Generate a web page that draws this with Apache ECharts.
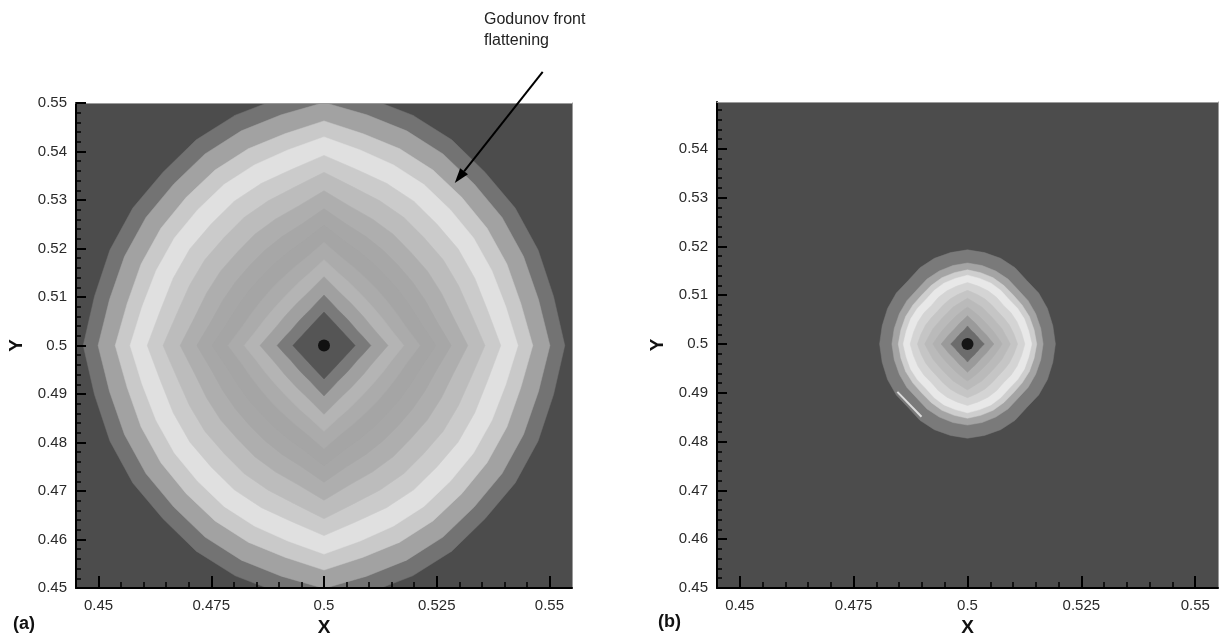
<!DOCTYPE html>
<html>
<head>
<meta charset="utf-8">
<script src="https://cdn.jsdelivr.net/npm/echarts@6/dist/echarts.min.js"></script>
<style>
html, body { margin: 0; background: #fff; }
#main { width: 1225px; height: 637px; }
</style>
</head>
<body>
<div id="main"></div>
<script>
// front centre (both panels)
var center = [0.5, 0.5];

// tick positions / labels
var xMajorTicks = [0.45, 0.475, 0.5, 0.525, 0.55];
var xMinorTicks = [0.455, 0.46, 0.465, 0.47, 0.48, 0.485, 0.49, 0.495,
                   0.505, 0.51, 0.515, 0.52, 0.53, 0.535, 0.54, 0.545];
var yMajorLeft = [0.45, 0.46, 0.47, 0.48, 0.49, 0.5, 0.51, 0.52, 0.53, 0.54, 0.55];
var yMajorRight = [0.45, 0.46, 0.47, 0.48, 0.49, 0.5, 0.51, 0.52, 0.53, 0.54];
var yMinorTicks = [0.452, 0.454, 0.456, 0.458, 0.462, 0.464, 0.466, 0.468,
                   0.472, 0.474, 0.476, 0.478, 0.482, 0.484, 0.486, 0.488,
                   0.492, 0.494, 0.496, 0.498, 0.502, 0.504, 0.506, 0.508,
                   0.512, 0.514, 0.516, 0.518, 0.522, 0.524, 0.526, 0.528,
                   0.532, 0.534, 0.536, 0.538, 0.542, 0.544, 0.546, 0.548];

// (a) contour levels, outermost first: radius at 0, 11.25, 22.5, 33.75, 45 deg
var leftR0  = [0.0534, 0.0501, 0.0463, 0.0430, 0.0392, 0.0357, 0.0319, 0.0282, 0.0248, 0.0213, 0.0177, 0.0142, 0.0104, 0.0069];
var leftR11 = [0.0519, 0.0485, 0.0445, 0.0411, 0.0370, 0.0333, 0.0293, 0.0255, 0.0221, 0.0187, 0.0154, 0.0122, 0.0089, 0.0059];
var leftR22 = [0.0514, 0.0479, 0.0439, 0.0403, 0.0362, 0.0323, 0.0282, 0.0243, 0.0208, 0.0174, 0.0142, 0.0111, 0.0080, 0.0053];
var leftR34 = [0.0510, 0.0475, 0.0435, 0.0399, 0.0358, 0.0318, 0.0276, 0.0236, 0.0201, 0.0167, 0.0135, 0.0106, 0.0076, 0.0050];
var leftR45 = [0.0505, 0.0471, 0.0432, 0.0396, 0.0354, 0.0314, 0.0272, 0.0233, 0.0198, 0.0165, 0.0133, 0.0104, 0.0075, 0.0049];
var leftColors = ['#737373', '#a2a2a2', '#c9c9c9', '#e0e0e0', '#cbcbcb', '#bcbcbc', '#aeaeae',
                  '#a7a7a7', '#a5a5a5', '#ababab', '#b4b4b4', '#a0a0a0', '#7a7a7a', '#555555'];

// (b) contour levels
var rightR0  = [0.0193, 0.0166, 0.0152, 0.0141, 0.0126, 0.0110, 0.0094, 0.0076, 0.0058, 0.0037];
var rightR11 = [0.0191, 0.0164, 0.0149, 0.0137, 0.0121, 0.0104, 0.0086, 0.0068, 0.0050, 0.0031];
var rightR22 = [0.0190, 0.0162, 0.0147, 0.0135, 0.0118, 0.0100, 0.0082, 0.0063, 0.0046, 0.0028];
var rightR34 = [0.0188, 0.0160, 0.0144, 0.0132, 0.0115, 0.0096, 0.0078, 0.0060, 0.0043, 0.0027];
var rightR45 = [0.0184, 0.0157, 0.0142, 0.0129, 0.0112, 0.0094, 0.0077, 0.0059, 0.0042, 0.0026];
var rightColors = ['#7a7a7a', '#a4a4a4', '#cecece', '#e8e8e8', '#d4d4d4', '#c5c5c5',
                   '#bababa', '#b1b1b1', '#9a9a9a', '#6c6c6c'];

// light streak on the lower-left edge of (b)
var streak = [[0.4846, 0.4902], [0.4899, 0.4851]];

// annotation arrow (data coords of panel a): tail, tip
var arrowTail = [0.5485, 0.5564];
var arrowTip = [0.5290, 0.5335];

var bg = '#4c4c4c';
var labelFont = 'Liberation Sans, Arial, sans-serif';

function makeRender(colors) {
    return function (params, api) {
        var prof = [api.value(0), api.value(1), api.value(2), api.value(3), api.value(4)];
        var pts = [];
        for (var k = 0; k < 32; k++) {
            var a = k * Math.PI / 16;
            var m = k % 8;               // position inside the quadrant
            var r = prof[m <= 4 ? m : 8 - m];
            pts.push(api.coord([center[0] + r * Math.cos(a), center[1] + r * Math.sin(a)]));
        }
        var c = colors[params.dataIndex];
        return {
            type: 'polygon',
            shape: { points: pts },
            style: { fill: c, stroke: c, lineWidth: 0.5 }
        };
    };
}

function levels(r0, r11, r22, r34, r45) {
    return r0.map(function (r, i) { return [r, r11[i], r22[i], r34[i], r45[i]]; });
}

function fmt(v) { return String(+v.toFixed(3)); }

function xAxes(grid) {
    var base = { type: 'value', gridIndex: grid, min: 0.445, max: 0.555, splitLine: { show: false }, z: 5 };
    return [
        Object.assign({}, base, {
            position: 'bottom',
            name: 'X', nameLocation: 'middle', nameGap: 29,
            nameTextStyle: { fontFamily: labelFont, fontWeight: 'bold', fontSize: 19, color: '#111' },
            axisLine: { show: true, onZero: false, lineStyle: { color: '#000', width: 2 } },
            axisTick: { show: true, inside: true, length: 12, customValues: xMajorTicks, lineStyle: { color: '#000', width: 2 } },
            axisLabel: { customValues: xMajorTicks, formatter: fmt, margin: 10, fontFamily: labelFont, fontSize: 15, color: '#2a2a2a' }
        }),
        Object.assign({}, base, {
            position: 'bottom',
            axisLine: { show: false },
            axisTick: { show: true, inside: true, length: 6, customValues: xMinorTicks, lineStyle: { color: '#000', width: 1.5 } },
            axisLabel: { show: false }
        }),
        Object.assign({}, base, {
            position: 'top',
            axisLine: { show: true, onZero: false, lineStyle: { color: '#9b9b9b', width: 1 } },
            axisTick: { show: false },
            axisLabel: { show: false }
        })
    ];
}

function yAxes(grid, max, majors) {
    var base = { type: 'value', gridIndex: grid, min: 0.45, max: max, splitLine: { show: false }, z: 5 };
    return [
        Object.assign({}, base, {
            position: 'left',
            name: 'Y', nameLocation: 'middle', nameGap: 50, nameRotate: 90,
            nameTextStyle: { fontFamily: labelFont, fontWeight: 'bold', fontSize: 19, color: '#111' },
            axisLine: { show: true, onZero: false, lineStyle: { color: '#000', width: 2 } },
            axisTick: { show: true, inside: true, length: 10, customValues: majors, lineStyle: { color: '#000', width: 2 } },
            axisLabel: { customValues: majors, formatter: fmt, margin: 9, fontFamily: labelFont, fontSize: 15, color: '#2a2a2a' }
        }),
        Object.assign({}, base, {
            position: 'left',
            axisLine: { show: false },
            axisTick: { show: true, inside: true, length: 5, customValues: yMinorTicks, lineStyle: { color: '#000', width: 1.5 } },
            axisLabel: { show: false }
        }),
        Object.assign({}, base, {
            position: 'right',
            axisLine: { show: true, onZero: false, lineStyle: { color: '#9b9b9b', width: 1 } },
            axisTick: { show: false },
            axisLabel: { show: false }
        })
    ];
}

var chart = echarts.init(document.getElementById('main'), null, { renderer: 'canvas' });

chart.setOption({
    animation: false,
    backgroundColor: '#fff',
    title: [
        { text: '(a)', left: 8, top: 610, textStyle: { fontFamily: labelFont, fontWeight: 'bold', fontSize: 18, color: '#111' } },
        { text: '(b)', left: 653, top: 608, textStyle: { fontFamily: labelFont, fontWeight: 'bold', fontSize: 18, color: '#111' } }
    ],
    grid: [
        { left: 76, top: 103, width: 496, height: 485, show: true, backgroundColor: bg, borderWidth: 0, outerBoundsMode: 'none', containLabel: false },
        { left: 717, top: 102, width: 501, height: 486, show: true, backgroundColor: bg, borderWidth: 0, outerBoundsMode: 'none', containLabel: false }
    ],
    xAxis: xAxes(0).concat(xAxes(1)),
    yAxis: yAxes(0, 0.55, yMajorLeft).concat(yAxes(1, 0.5496, yMajorRight)),
    series: [
        {
            type: 'custom', xAxisIndex: 0, yAxisIndex: 0, clip: true, z: 2,
            renderItem: makeRender(leftColors),
            data: levels(leftR0, leftR11, leftR22, leftR34, leftR45)
        },
        {
            type: 'scatter', xAxisIndex: 0, yAxisIndex: 0, z: 3, symbolSize: 12,
            itemStyle: { color: '#000' }, data: [center]
        },
        {
            type: 'custom', xAxisIndex: 3, yAxisIndex: 3, clip: true, z: 2,
            renderItem: makeRender(rightColors),
            data: levels(rightR0, rightR11, rightR22, rightR34, rightR45)
        },
        {
            type: 'line', xAxisIndex: 3, yAxisIndex: 3, z: 3, showSymbol: false,
            lineStyle: { color: '#dcdcdc', width: 2 }, data: streak
        },
        {
            type: 'scatter', xAxisIndex: 3, yAxisIndex: 3, z: 3, symbolSize: 12,
            itemStyle: { color: '#000' }, data: [center]
        }
    ]
});

// annotation text + arrow
var p0 = chart.convertToPixel({ gridIndex: 0 }, arrowTail);
var p1 = chart.convertToPixel({ gridIndex: 0 }, arrowTip);
var dx = p1[0] - p0[0], dy = p1[1] - p0[1];
var len = Math.sqrt(dx * dx + dy * dy);
var ux = dx / len, uy = dy / len;
var headL = 15, headW = 5;
var base = [p1[0] - ux * headL, p1[1] - uy * headL];

chart.setOption({
    graphic: [
        {
            type: 'text', left: 484, top: 9,
            style: { text: 'Godunov front\nflattening', font: '16px ' + labelFont, fill: '#222', lineHeight: 21 }
        },
        {
            type: 'line', z: 10,
            shape: { x1: p0[0], y1: p0[1], x2: base[0], y2: base[1] },
            style: { stroke: '#000', lineWidth: 2 }
        },
        {
            type: 'polygon', z: 10,
            shape: { points: [p1, [base[0] - uy * headW, base[1] + ux * headW], [base[0] + uy * headW, base[1] - ux * headW]] },
            style: { fill: '#000' }
        }
    ]
});
</script>
</body>
</html>
